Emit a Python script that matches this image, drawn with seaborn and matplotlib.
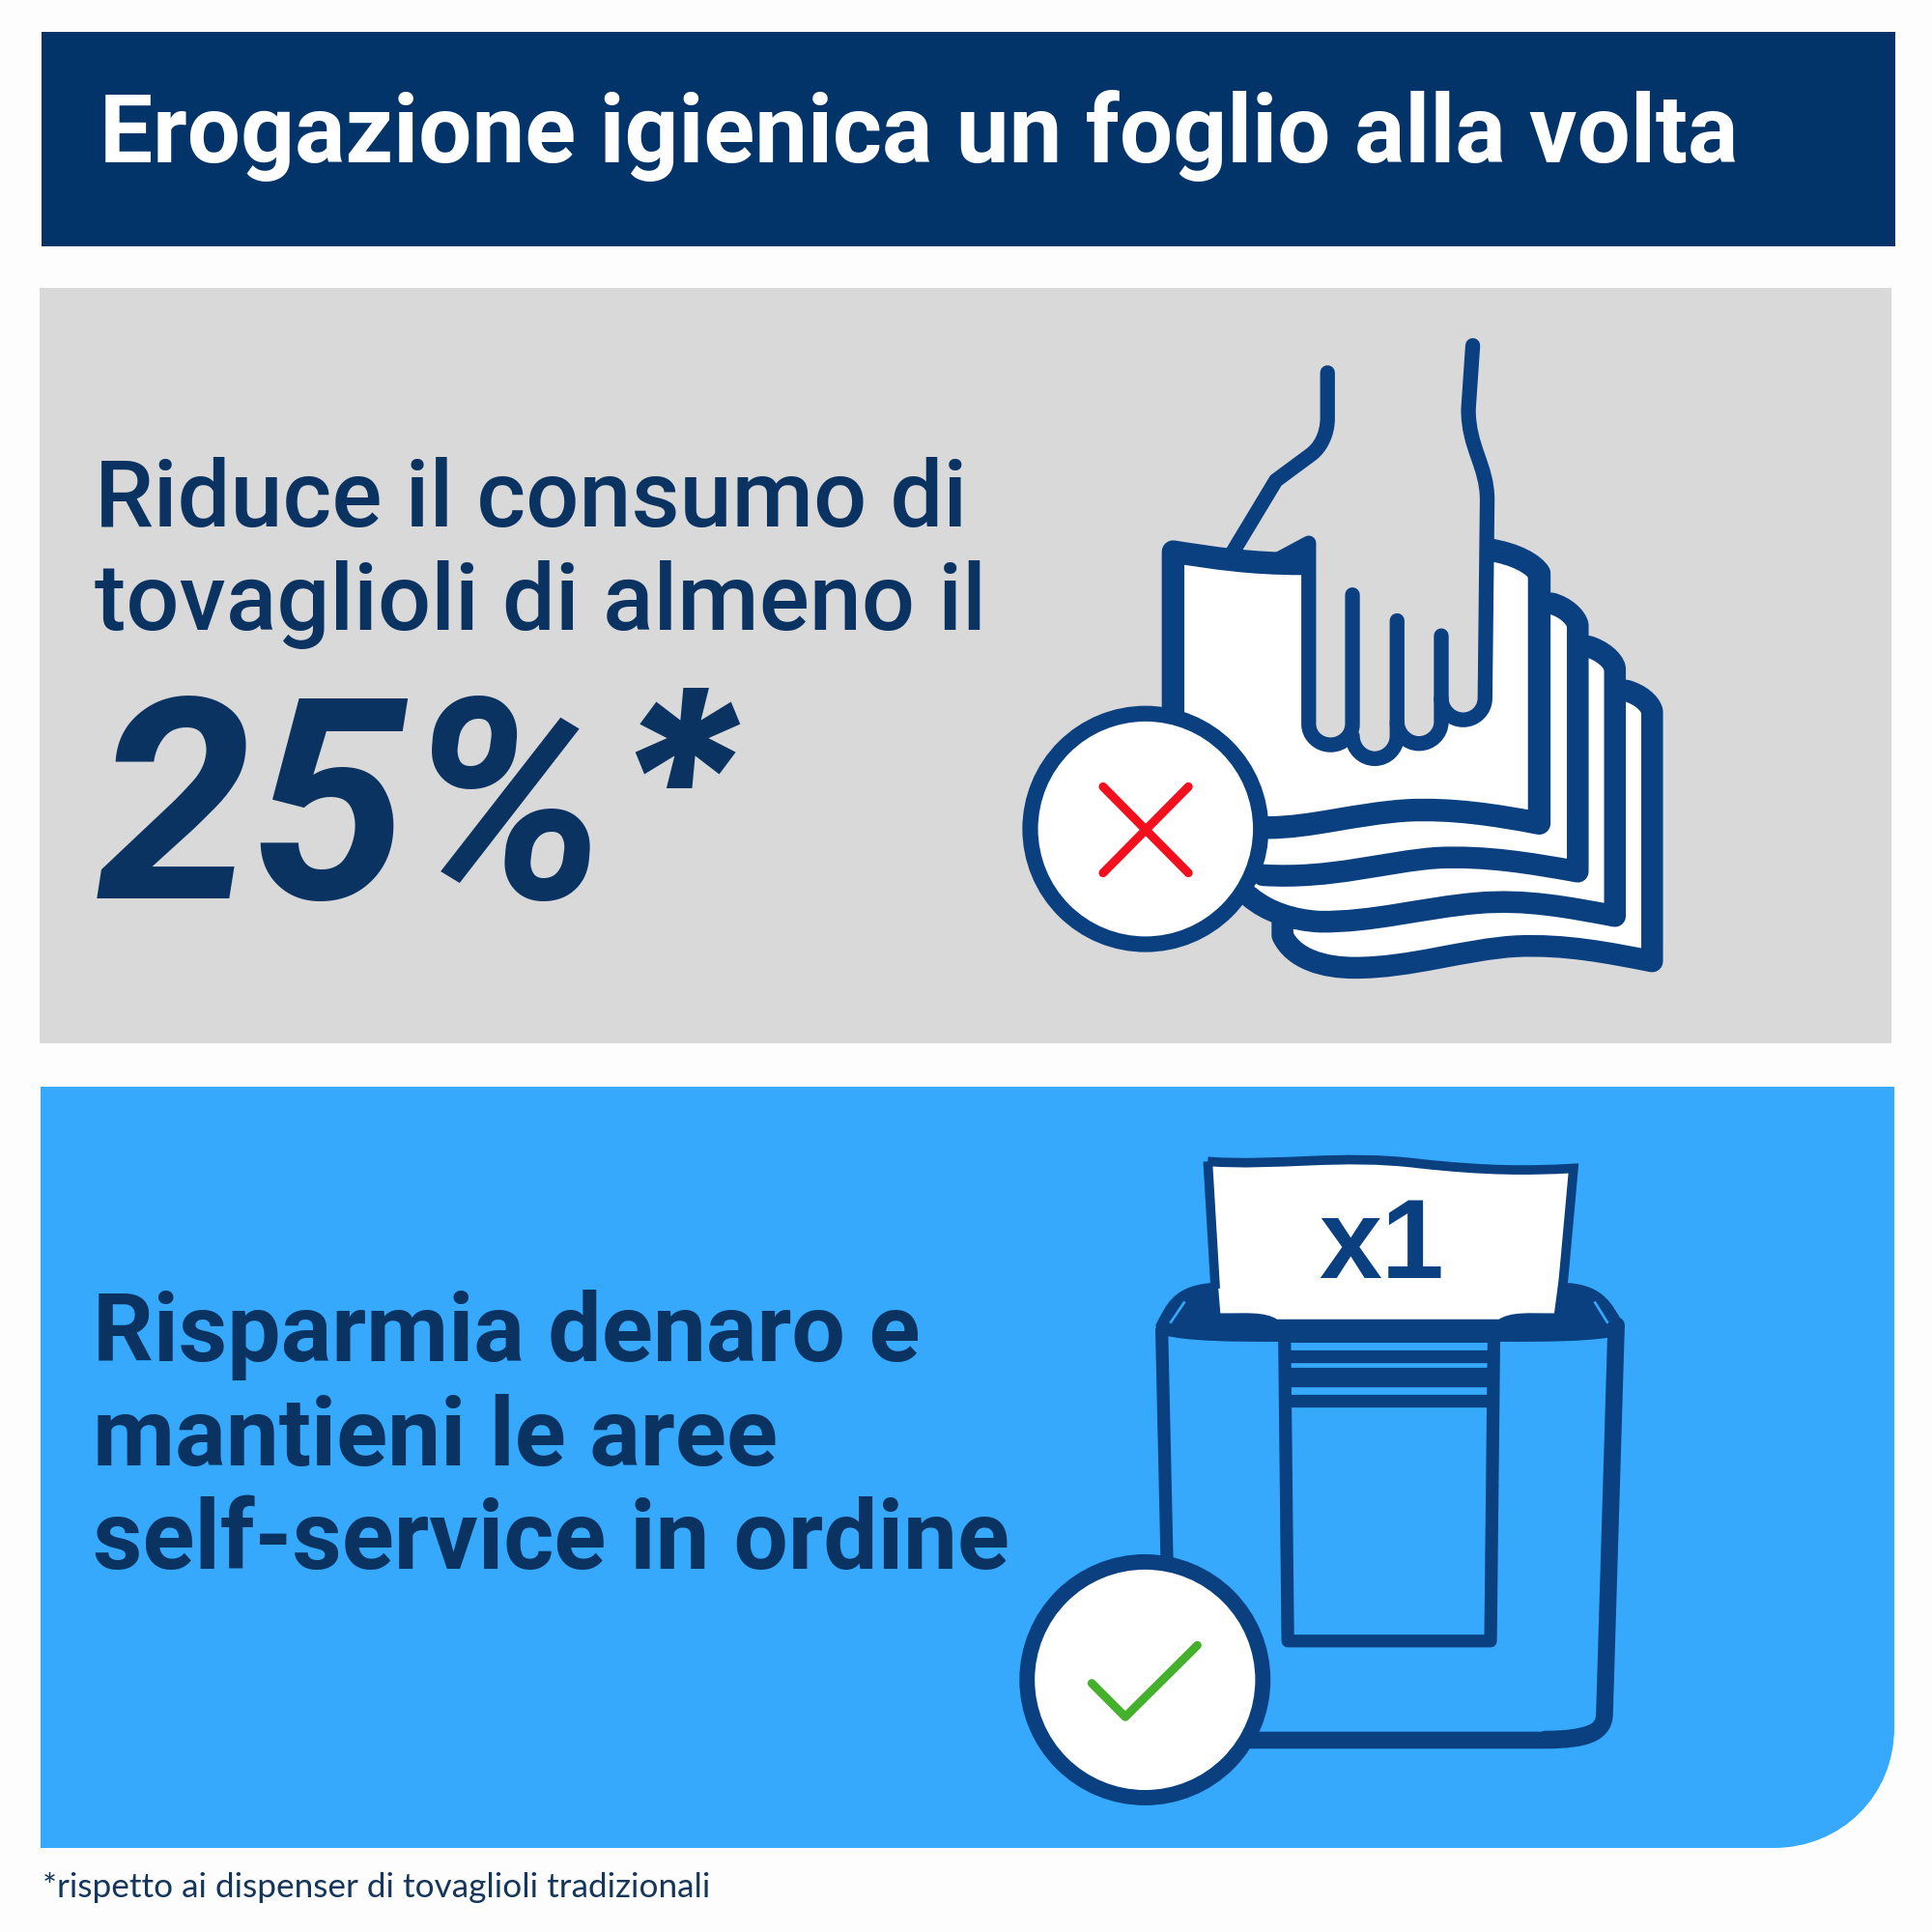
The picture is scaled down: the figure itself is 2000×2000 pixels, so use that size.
import matplotlib
matplotlib.use("Agg")
import matplotlib.pyplot as plt
import seaborn as sns
from matplotlib.path import Path
from matplotlib.patches import PathPatch, Rectangle, Circle

# ---- content ----
title_text = "Erogazione igienica un foglio alla volta"
gray_lines = ["Riduce il consumo di", "tovaglioli di almeno il"]
big_value = "25%"
big_mark = "*"
blue_lines = ["Risparmia denaro e", "mantieni le aree", "self-service in ordine"]
sheet_label = "x1"
footnote = "*rispetto ai dispenser di tovaglioli tradizionali"

NAVY = "#02346A"; GRAY = "#D9D9DA"; SKY = "#36A9FD"; ICON = "#0A3F80"
TEXT = "#0B3361"; RED = "#F2101E"; GREEN = "#45B02C"
SANS = ["Roboto", "DejaVu Sans"]

sns.set_theme(style="white")
plt.rcParams["font.family"] = SANS

fig = plt.figure(figsize=(10, 10), dpi=200, facecolor="#FDFDFD")
ax = fig.add_axes([0, 0, 1, 1])
ax.set_xlim(0, 2000); ax.set_ylim(2000, 0); ax.axis("off")
PT = 72 / 200  # points per pixel

def fit(x, y, s, width, color, weight="bold", family=None, style="normal"):
    t = ax.text(x, y, s, color=color, fontweight=weight, fontsize=30, va="baseline",
                ha="left", style=style, family=family or SANS)
    r = fig.canvas.get_renderer()
    t.set_fontsize(30 * width / t.get_window_extent(r).width)
    return t

def make(points, tf):
    verts, codes = [], []
    for seg in points:
        op, pts = seg[0], seg[1:]
        for p in pts:
            verts.append(tf(*p))
            codes.append({"M": Path.MOVETO, "L": Path.LINETO, "C": Path.CURVE4}[op])
    return Path(verts, codes)

def draw(points, tf, lw=None, fill="none", edge=ICON, z=2, cap="round", join="round"):
    ax.add_patch(PathPatch(make(points, tf), facecolor=fill,
                           edgecolor=edge if lw else "none",
                           lw=(lw or 0) * PT, capstyle=cap, joinstyle=join, zorder=z))

# ---- panels ----
ax.add_patch(Rectangle((43, 33), 1919, 222, fc=NAVY, ec="none"))
ax.add_patch(Rectangle((41, 298), 1917, 782, fc=GRAY, ec="none"))
same = lambda x, y: (x, y)
draw([("M", (42, 1125)), ("L", (1961, 1125), (1961, 1788)),
      ("C", (1961, 1860), (1905, 1913), (1836, 1913)), ("L", (42, 1913), (42, 1125))],
     same, fill=SKY, z=1)

# ---- text ----
fit(103, 168, title_text, 1697, "white", weight="bold")
fit(98, 545, gray_lines[0], 905, TEXT, weight="medium")
fit(98, 652, gray_lines[1], 925, TEXT, weight="medium")
fit(100, 930, big_value, 530, TEXT, weight="bold", style="italic")
ax.text(626, 897, big_mark, color=TEXT, fontsize=92, fontweight="heavy", style="italic",
        va="baseline", ha="left", family=["Inter", "DejaVu Sans"], zorder=2)
fit(96, 1409, blue_lines[0], 857, TEXT)
fit(96, 1517, blue_lines[1], 710, TEXT)
fit(96, 1624, blue_lines[2], 950, TEXT)
fit(44, 1964, footnote, 690, "#14365C", weight="normal", family=["Lato", "DejaVu Sans"])

# ---- napkin icon ----
z1 = lambda x, y: (1040 + x / 2.208, 330 + y / 2.24)
S = 1 / 2.22
sheets = [
    [("M", (1420, 862)), ("C", (1450, 870), (1475, 890), (1480, 910)), ("L", (1480, 1490)),
     ("C", (1380, 1470), (1280, 1450), (1170, 1455)), ("C", (1050, 1462), (930, 1505), (800, 1505)),
     ("C", (730, 1505), (660, 1485), (635, 1430)), ("L", (635, 1400))],
    [("M", (1335, 760)), ("C", (1365, 770), (1390, 790), (1395, 810)), ("L", (1395, 1385)),
     ("C", (1290, 1365), (1190, 1345), (1080, 1355)), ("C", (960, 1365), (840, 1400), (720, 1398)),
     ("C", (660, 1395), (600, 1375), (560, 1340))],
    [("M", (1250, 660)), ("C", (1280, 668), (1305, 690), (1310, 710)), ("L", (1310, 1282)),
     ("C", (1200, 1262), (1100, 1245), (990, 1250)), ("C", (870, 1258), (750, 1300), (590, 1290))],
]
lefts = [635, 560, 500]
for s, lx in zip(sheets, lefts):
    draw(s + [("L", (lx, 1330), (lx, 800)), ("L", s[0][1])], z1, fill="white", z=2)
    draw(s, z1, lw=50 * S, z=2.1)

draw([("M", (385, 540)), ("C", (480, 555), (560, 568), (695, 568)), ("L", (1120, 535)),
      ("C", (1170, 545), (1210, 570), (1222, 590)), ("L", (1222, 1170)),
      ("C", (1120, 1150), (1020, 1135), (920, 1140)), ("C", (800, 1148), (700, 1180), (600, 1180)),
      ("L", (385, 1180)), ("L", (385, 540))], z1, fill="white", z=3)
draw([("M", (385, 950)), ("L", (385, 540)), ("C", (480, 555), (560, 568), (680, 568))], z1, lw=52 * S, z=3.1)
draw([("M", (1105, 535)), ("C", (1170, 545), (1210, 570), (1222, 590)), ("L", (1222, 1170)),
      ("C", (1120, 1150), (1020, 1135), (920, 1140)), ("C", (800, 1148), (700, 1180), (600, 1180))],
     z1, lw=52 * S, z=3.1)

hand_fill = [("M", (695, 520)), ("L", (695, 940)), ("C", (695, 967), (718, 988), (745, 988)),
             ("C", (765, 988), (785, 980), (795, 968)), ("C", (795, 996), (818, 1020), (846, 1020)),
             ("C", (874, 1020), (897, 996), (897, 968)), ("C", (905, 980), (925, 985), (947, 985)),
             ("C", (975, 985), (998, 962), (998, 880)), ("C", (998, 908), (1021, 930), (1048, 930)),
             ("C", (1075, 930), (1098, 908), (1098, 880)), ("L", (1103, 500)), ("L", (695, 500))]
draw(hand_fill, z1, fill=GRAY, z=3.2)
hand_lines = [
    [("M", (738, 125)), ("L", (738, 230)), ("C", (738, 270), (720, 300), (700, 315)),
     ("L", (620, 375)), ("L", (522, 540))],
    [("M", (625, 558)), ("L", (695, 520)), ("L", (695, 940)), ("C", (695, 967), (718, 988), (745, 988)),
     ("C", (772, 988), (795, 967), (795, 940)), ("L", (795, 640))],
    [("M", (795, 968)), ("C", (795, 996), (818, 1020), (846, 1020)),
     ("C", (874, 1020), (897, 996), (897, 968)), ("L", (897, 700))],
    [("M", (897, 935)), ("C", (897, 962), (920, 985), (947, 985)),
     ("C", (975, 985), (998, 962), (998, 935)), ("L", (998, 735))],
    [("M", (998, 880)), ("C", (998, 908), (1021, 930), (1048, 930)),
     ("C", (1075, 930), (1098, 908), (1098, 880)), ("L", (1103, 420)),
     ("C", (1103, 340), (1060, 300), (1060, 210)), ("L", (1070, 62))],
]
for h in hand_lines:
    draw(h, z1, lw=34 * S, z=3.3)

ax.add_patch(Circle(z1(322, 1183), 265 / 2.22, fc="white", ec=ICON, lw=36 * S * PT, zorder=4))
draw([("M", (225, 1085)), ("L", (420, 1285))], z1, lw=20 * S, edge=RED, z=5)
draw([("M", (420, 1085)), ("L", (225, 1285))], z1, lw=20 * S, edge=RED, z=5)

# ---- dispenser icon ----
z2 = lambda x, y: (1040 + x / 2.306, 1180 + y / 2.24)
Q = 1 / 2.27
draw([("M", (375, 440)), ("L", (388, 1000))], z2, lw=30 * Q, z=2)
draw([("M", (560, 1392)), ("L", (1290, 1392)), ("C", (1390, 1392), (1432, 1375), (1432, 1330)),
      ("L", (1460, 430))], z2, lw=40 * Q, z=2)
draw([("M", (1290, 1384)), ("C", (1390, 1384), (1432, 1365), (1432, 1330)), ("L", (1458, 440))],
     z2, lw=28 * Q, z=2)
cap_shape = [("M", (360, 430)), ("C", (385, 385), (400, 340), (490, 332)), ("L", (1350, 332)),
             ("C", (1430, 340), (1450, 380), (1476, 425)), ("L", (1445, 458)),
             ("C", (1380, 468), (1290, 468), (1200, 468)), ("L", (640, 468)),
             ("C", (550, 468), (440, 468), (375, 452)), ("L", (360, 430))]
draw(cap_shape, z2, fill=ICON, z=2)
draw([("M", (395, 425)), ("L", (430, 375))], z2, lw=6 * Q, edge=SKY, z=2.05, cap="butt")
draw([("M", (1440, 425)), ("L", (1408, 375))], z2, lw=6 * Q, edge=SKY, z=2.05, cap="butt")
draw([("M", (668, 445)), ("L", (676, 1162)), ("L", (1160, 1162)), ("L", (1168, 445))], z2, lw=30 * Q, z=2.2)
draw([("M", (655, 445)), ("L", (1182, 445))], z2, lw=50 * Q, z=2.2, cap="butt")
for y, w in [(502, 30), (550, 46), (605, 30)]:
    draw([("M", (680, y)), ("L", (1155, y))], z2, lw=w * Q, z=2.2, cap="butt")
paper = [("M", (485, 50)), ("C", (650, 62), (800, 32), (990, 55)), ("C", (1150, 72), (1250, 72), (1358, 66)),
         ("L", (1312, 402)), ("C", (1250, 402), (1210, 398), (1180, 416)), ("L", (650, 416)),
         ("C", (620, 398), (580, 402), (515, 402)), ("L", (485, 50))]
draw(paper, z2, fill="white", z=2.5)
draw(paper[:3] + [("L", (1332, 345))], z2, lw=22 * Q, z=2.6, cap="butt", join="miter")
draw([("M", (485, 50)), ("L", (503, 345))], z2, lw=22 * Q, z=2.6, cap="butt")
ax.text(*z2(900, 320), sheet_label, color=ICON, fontsize=42, fontweight="bold",
        ha="center", va="baseline", family=["Liberation Sans", "DejaVu Sans"], zorder=3)

ax.add_patch(Circle(z2(335, 1252), 277 * Q, fc="white", ec=ICON, lw=36 * Q * PT, zorder=4))
draw([("M", (208, 1260)), ("L", (288, 1338)), ("L", (460, 1172))], z2, lw=20 * Q, edge=GREEN, z=5)

fig.savefig("out.png", dpi=200, facecolor=fig.get_facecolor())
